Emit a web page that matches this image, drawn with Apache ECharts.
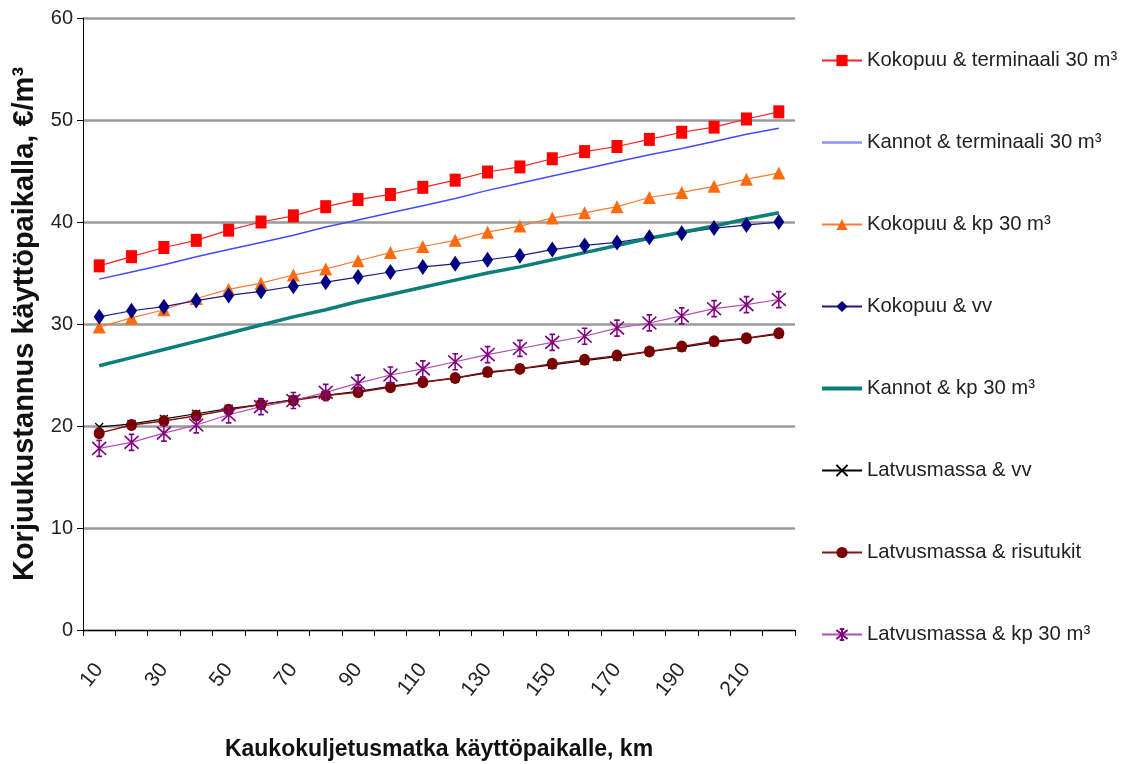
<!DOCTYPE html>
<html>
<head>
<meta charset="utf-8">
<script src="https://cdn.jsdelivr.net/npm/echarts@6/dist/echarts.min.js"></script>
<style>
html,body{margin:0;padding:0;background:#fff;}
#c{width:1127px;height:764px;}
</style>
</head>
<body>
<div id="c"></div>
<script>
const categories = ['10','20','30','40','50','60','70','80','90','100','110','120','130','140','150','160','170','180','190','200','210','220'];
const kokopuuTerminaali = [35.7,36.6,37.5,38.2,39.2,40.0,40.6,41.5,42.2,42.7,43.4,44.1,44.9,45.4,46.2,46.9,47.4,48.1,48.8,49.3,50.1,50.8];
const kannotTerminaali = [34.4,35.1,35.8,36.6,37.3,38.0,38.7,39.5,40.2,40.9,41.6,42.3,43.1,43.8,44.5,45.2,45.9,46.6,47.2,47.9,48.6,49.2];
const kokopuuKp = [29.7,30.6,31.4,32.5,33.4,34.0,34.8,35.4,36.2,37.0,37.6,38.2,39.0,39.6,40.4,40.9,41.5,42.4,42.9,43.5,44.2,44.8];
const kokopuuVv = [30.7,31.3,31.7,32.3,32.8,33.2,33.7,34.1,34.6,35.1,35.6,35.9,36.3,36.7,37.3,37.7,38.0,38.5,38.9,39.4,39.7,40.0];
const kannotKp = [25.9,26.7,27.5,28.3,29.1,29.9,30.7,31.4,32.2,32.9,33.6,34.3,35.0,35.6,36.3,37.0,37.7,38.4,39.0,39.6,40.3,40.9];
const latvusVv = [19.9,20.2,20.7,21.2,21.7,22.1,22.6,23.0,23.4,23.9,24.3,24.7,25.2,25.6,26.0,26.4,26.8,27.3,27.7,28.2,28.6,29.0];
const latvusRisutukit = [19.3,20.1,20.5,21.0,21.6,22.1,22.5,23.0,23.3,23.8,24.3,24.7,25.3,25.6,26.1,26.5,26.9,27.3,27.8,28.3,28.6,29.1];
const latvusKp = [17.8,18.4,19.3,20.1,21.1,21.9,22.5,23.3,24.2,25.0,25.6,26.3,27.0,27.6,28.2,28.8,29.6,30.1,30.8,31.5,31.9,32.4];
const yTicks = [0,10,20,30,40,50,60];
const seriesNames = ['Kokopuu & terminaali 30 m³','Kannot & terminaali 30 m³','Kokopuu & kp 30 m³','Kokopuu & vv','Kannot & kp 30 m³','Latvusmassa & vv','Latvusmassa & risutukit','Latvusmassa & kp 30 m³'];

const FONT = '"Liberation Sans", Arial, sans-serif';
const xPath = 'path://M0,0L10,10M10,0L0,10';
const starPath = 'path://M0,1L10,9M10,1L0,9M5,0L5,10M3,0L7,0M3,10L7,10';

const legendData = seriesNames.map(function(n, i){
  if (i === 1) return {name:n, itemStyle:{opacity:0}, lineStyle:{color:'#8f8fff',width:2.5}};
  if (i === 4) return {name:n, itemStyle:{opacity:0}, lineStyle:{width:4}};
  return {name:n};
});

const chart = echarts.init(document.getElementById('c'), null, {renderer:'canvas'});
chart.setOption({
  animation:false,
  backgroundColor:'#fff',
  grid:{left:83,right:332,top:18,bottom:134,containLabel:false,outerBoundsMode:'none'},
  legend:{
    orient:'vertical', left:820, top:50, itemWidth:40, itemHeight:14, itemGap:61, padding:0,
    textStyle:{fontFamily:FONT,fontSize:20.3,color:'#222',lineHeight:21},
    data:legendData
  },
  xAxis:{
    type:'category', data:categories, boundaryGap:true,
    name:'Kaukokuljetusmatka käyttöpaikalle, km', nameLocation:'middle', nameGap:108,
    nameTextStyle:{fontFamily:FONT,fontSize:23,fontWeight:'bold',color:'#111'},
    axisLine:{lineStyle:{color:'#000',width:1}},
    axisTick:{show:true,interval:0,length:6,lineStyle:{color:'#000'}},
    axisLabel:{interval:1,rotate:52,fontFamily:FONT,fontSize:21,color:'#222',margin:36}
  },
  yAxis:{
    type:'value', min:0, max:60, interval:10,
    name:'Korjuukustannus käyttöpaikalla, €/m³', nameLocation:'middle', nameGap:40,
    nameTextStyle:{fontFamily:FONT,fontSize:29,fontWeight:'bold',color:'#111'},
    axisLine:{show:true,lineStyle:{color:'#000',width:1}},
    axisTick:{show:true,length:6,lineStyle:{color:'#000'}},
    axisLabel:{fontFamily:FONT,fontSize:20,color:'#222',margin:10,
      formatter:function(v){return yTicks.indexOf(v)>=0?String(v):'';}},
    splitLine:{show:true,lineStyle:{color:'#9a9a9a',width:2.5}}
  },
  series:[
    {name:seriesNames[0],type:'line',data:kokopuuTerminaali,symbol:'rect',symbolSize:[11,13],
      itemStyle:{color:'#ff0000'},lineStyle:{color:'#ff2020',width:1.2}},
    {name:seriesNames[1],type:'line',data:kannotTerminaali,symbol:'none',
      itemStyle:{color:'#5a5aff'},lineStyle:{color:'#4848ff',width:1.5}},
    {name:seriesNames[2],type:'line',data:kokopuuKp,symbol:'triangle',symbolSize:[13,13],
      itemStyle:{color:'#ff6a10'},lineStyle:{color:'#ff7a30',width:1.2}},
    {name:seriesNames[3],type:'line',data:kokopuuVv,symbol:'diamond',symbolSize:[11,16],
      itemStyle:{color:'#000080'},lineStyle:{color:'#1a1a8c',width:1.2}},
    {name:seriesNames[4],type:'line',data:kannotKp,symbol:'none',
      itemStyle:{color:'#0b8078'},lineStyle:{color:'#0b8078',width:3.5}},
    {name:seriesNames[5],type:'line',data:latvusVv,symbol:xPath,symbolSize:[8,8],
      itemStyle:{color:'#000',borderColor:'#000',borderWidth:1.2},lineStyle:{color:'#000',width:1.2}},
    {name:seriesNames[6],type:'line',data:latvusRisutukit,symbol:'circle',symbolSize:[11,12],
      itemStyle:{color:'#7a0000'},lineStyle:{color:'#8a1010',width:1.5}},
    {name:seriesNames[7],type:'line',data:latvusKp,symbol:starPath,symbolSize:[14,16],
      itemStyle:{color:'#800080',borderColor:'#800080',borderWidth:1.6},lineStyle:{color:'#b050b0',width:1.2}}
  ]
});
</script>
</body>
</html>
